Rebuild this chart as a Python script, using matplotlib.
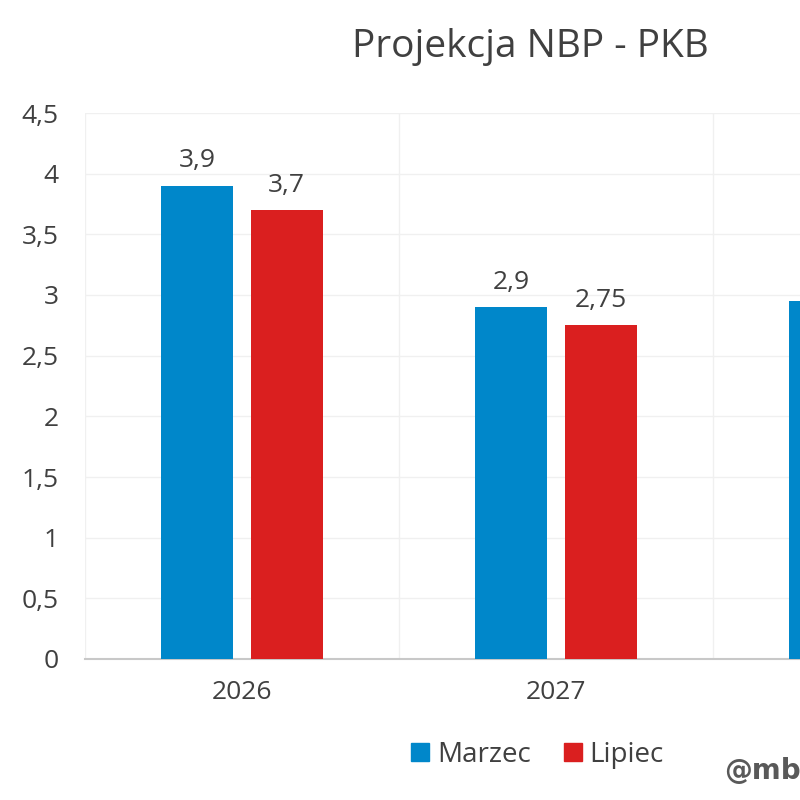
import numpy as np
import matplotlib
matplotlib.use('Agg')
import matplotlib.pyplot as plt
from matplotlib.lines import Line2D

plt.rcParams['font.family'] = ['Open Sans', 'DejaVu Sans']

lata = ['2026', '2027', '2028']
marzec = [3.9, 2.9, 2.95]
lipiec = [3.7, 2.75, np.nan]  # 2028 poza kadrem
yticks = [0, 0.5, 1, 1.5, 2, 2.5, 3, 3.5, 4, 4.5]

niebieski = '#0087CA'
czerwony = '#DA1F1F'
tekst = '#404040'

def fmt(v):
    return ('%g' % v).replace('.', ',')

fig = plt.figure(figsize=(8, 8), dpi=100)
# wykres ucięty z prawej - osie wychodzą poza rysunek
ax = fig.add_axes([85/800, 1-659/800, (1027-85)/800, (659-113)/800])

x = np.arange(len(lata))
w = 0.229
off = 0.142
b1 = ax.bar(x - off, marzec, w, color=niebieski, zorder=3)
b2 = ax.bar(x + off, lipiec, w, color=czerwony, zorder=3)

for bars, vals in [(b1, marzec), (b2, lipiec)]:
    for b, v in zip(bars, vals):
        if np.isnan(v):
            continue
        ax.annotate(fmt(v), (b.get_x() + b.get_width()/2, v), xytext=(0, 9),
                    textcoords='offset points', ha='center', va='bottom',
                    fontsize=19, color=tekst)

ax.set_xlim(-0.5, len(lata) - 0.5)
ax.set_ylim(0, 4.5)
ax.set_yticks(yticks)
ax.set_yticklabels([fmt(v) for v in yticks])
ax.set_xticks(x)
ax.set_xticklabels(lata)
ax.tick_params(axis='both', length=0, labelsize=19, labelcolor=tekst)
ax.tick_params(axis='y', pad=19)
ax.tick_params(axis='x', pad=15)

ax.grid(axis='y', color='#f0f0f0', lw=1, zorder=0)
for xv in np.arange(-0.5, len(lata), 1):
    ax.axvline(xv, color='#f0f0f0', lw=1, zorder=0)
for s in ['top', 'right', 'left']:
    ax.spines[s].set_visible(False)
ax.spines['bottom'].set_color('#c8c8c8')
ax.spines['bottom'].set_linewidth(1.5)

fig.text(530/800, 1-47/800, 'Projekcja NBP - PKB', ha='center', va='center',
         fontsize=28, color=tekst)

uchwyty = [Line2D([], [], marker='s', ls='', color=niebieski, markersize=13),
           Line2D([], [], marker='s', ls='', color=czerwony, markersize=13)]
fig.legend(uchwyty, ['Marzec', 'Lipiec'], loc='center', bbox_to_anchor=(535/800, 1-755/800),
           ncol=2, frameon=False, fontsize=20, labelcolor=tekst,
           handletextpad=0.1, columnspacing=1.0, handlelength=1)

fig.text(724/800, 1-772/800, '@mbank_research', ha='left', va='center',
         fontsize=20, fontweight='bold', color='#595959', family='DejaVu Sans')

fig.savefig('out.png', dpi=100)
